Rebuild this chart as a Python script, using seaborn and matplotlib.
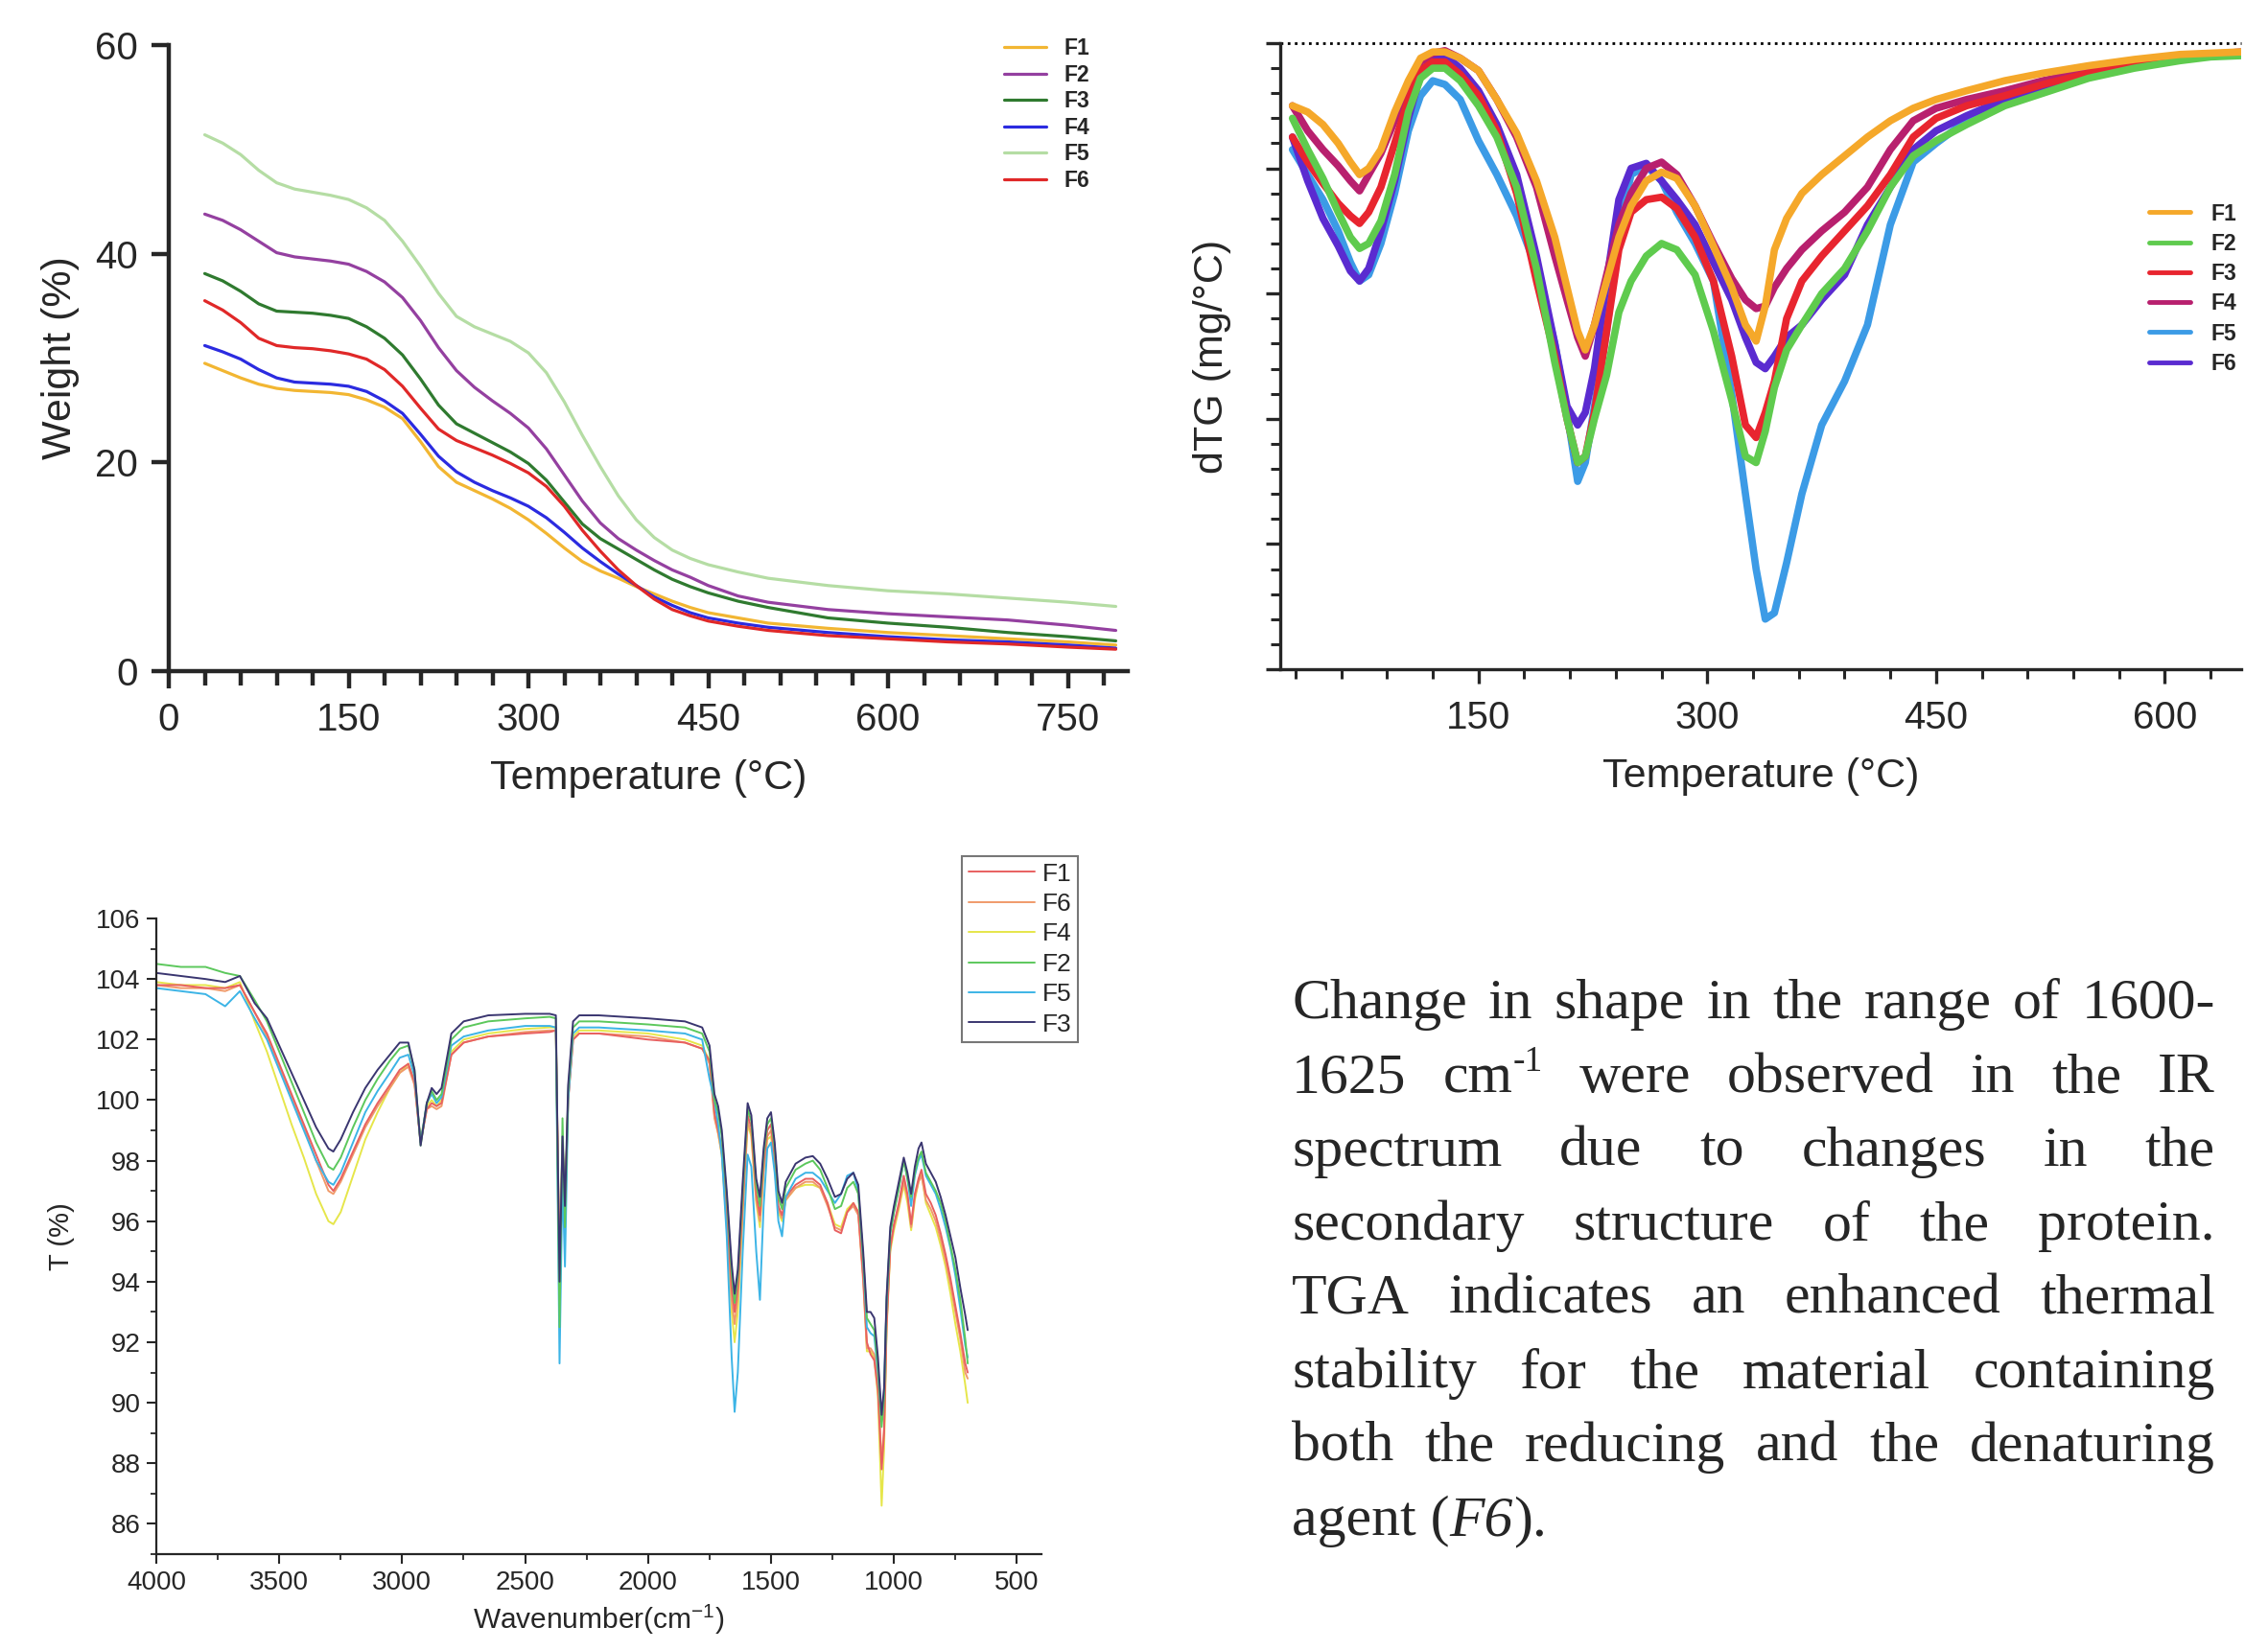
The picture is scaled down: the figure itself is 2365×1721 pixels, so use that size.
import numpy as np
import seaborn as sns
import matplotlib.pyplot as plt
from matplotlib.ticker import MultipleLocator, FixedLocator, NullFormatter

sns.set_style('ticks')
plt.rcParams['font.family'] = ['Liberation Sans', 'DejaVu Sans']
plt.rcParams['mathtext.default'] = 'regular'

# === TGA (weight %) ===
tga_temp = [30, 45, 60, 75, 90, 105, 120, 135, 150, 165, 180, 195, 210, 225, 240, 255, 270, 285,
            300, 315, 330, 345, 360, 375, 390, 405, 420, 435, 450, 475, 500, 550, 600, 650, 700, 750, 790]
tga_f1 = [29.5, 28.8, 28.1, 27.5, 27.1, 26.9, 26.8, 26.7, 26.5, 26.0, 25.3, 24.2, 22.0, 19.6, 18.1, 17.3, 16.5, 15.6,
          14.5, 13.2, 11.8, 10.5, 9.6, 8.9, 8.1, 7.4, 6.7, 6.1, 5.6, 5.1, 4.6, 4.1, 3.7, 3.4, 3.1, 2.8, 2.5]
tga_f2 = [43.8, 43.2, 42.3, 41.2, 40.1, 39.7, 39.5, 39.3, 39.0, 38.3, 37.3, 35.8, 33.6, 31.0, 28.8, 27.2, 25.9, 24.7,
          23.3, 21.3, 18.8, 16.3, 14.2, 12.7, 11.6, 10.6, 9.7, 9.0, 8.2, 7.2, 6.6, 5.9, 5.5, 5.2, 4.9, 4.4, 3.9]
tga_f3 = [38.1, 37.4, 36.4, 35.2, 34.5, 34.4, 34.3, 34.1, 33.8, 33.0, 31.9, 30.3, 28.0, 25.5, 23.7, 22.8, 21.9, 21.0,
          19.9, 18.3, 16.2, 14.1, 12.7, 11.7, 10.7, 9.7, 8.8, 8.1, 7.5, 6.7, 6.1, 5.1, 4.6, 4.2, 3.7, 3.3, 2.9]
tga_f4 = [31.2, 30.6, 29.9, 28.9, 28.1, 27.7, 27.6, 27.5, 27.3, 26.8, 25.9, 24.7, 22.7, 20.6, 19.1, 18.1, 17.3, 16.6,
          15.8, 14.7, 13.3, 11.8, 10.5, 9.3, 8.2, 7.1, 6.3, 5.6, 5.1, 4.6, 4.2, 3.7, 3.3, 3.0, 2.8, 2.5, 2.2]
tga_f5 = [51.4, 50.6, 49.5, 48.0, 46.8, 46.2, 45.9, 45.6, 45.2, 44.4, 43.2, 41.2, 38.8, 36.2, 34.0, 33.0, 32.3, 31.6,
          30.5, 28.6, 25.8, 22.6, 19.6, 16.8, 14.5, 12.8, 11.6, 10.8, 10.2, 9.5, 8.9, 8.2, 7.7, 7.4, 7.0, 6.6, 6.2]
tga_f6 = [35.5, 34.6, 33.4, 31.9, 31.2, 31.0, 30.9, 30.7, 30.4, 29.9, 28.9, 27.3, 25.2, 23.2, 22.1, 21.4, 20.7, 19.9,
          19.0, 17.7, 15.8, 13.5, 11.5, 9.7, 8.2, 6.9, 5.9, 5.3, 4.8, 4.3, 3.9, 3.4, 3.1, 2.8, 2.6, 2.3, 2.1]
tga_labels = ['F1', 'F2', 'F3', 'F4', 'F5', 'F6']
tga_colors = ['#F2B632', '#9440A0', '#2F7A2F', '#2B2BE0', '#B5DDA4', '#E02828']

# === dTG ===
dtg_temp = [28, 38, 48, 58, 66, 72, 78, 86, 95, 104, 112, 120, 128, 138, 150, 162, 175, 188, 200, 208, 215, 220,
            226, 234, 242, 250, 260, 270, 280, 292, 304, 316, 325, 332, 338, 344, 352, 362, 375, 390, 405, 420,
            435, 450, 470, 495, 520, 550, 580, 610, 630, 650]
dtg_f1 = [-0.50, -0.55, -0.65, -0.80, -0.95, -1.05, -1.00, -0.85, -0.55, -0.30, -0.12, -0.07, -0.07, -0.12, -0.22,
          -0.45, -0.72, -1.10, -1.55, -1.95, -2.30, -2.45, -2.25, -1.90, -1.55, -1.30, -1.10, -1.03, -1.08, -1.30,
          -1.62, -1.95, -2.25, -2.38, -2.10, -1.65, -1.40, -1.20, -1.05, -0.90, -0.75, -0.62, -0.52, -0.45, -0.38,
          -0.30, -0.24, -0.18, -0.13, -0.09, -0.08, -0.07]
dtg_f2 = [-0.60, -0.85, -1.08, -1.35, -1.55, -1.64, -1.60, -1.42, -1.05, -0.55, -0.28, -0.20, -0.20, -0.30, -0.50,
          -0.75, -1.15, -1.80, -2.55, -3.00, -3.35, -3.30, -3.00, -2.65, -2.15, -1.90, -1.70, -1.60, -1.65, -1.85,
          -2.30, -2.85, -3.30, -3.35, -3.10, -2.75, -2.45, -2.25, -2.00, -1.80, -1.50, -1.15, -0.90, -0.78, -0.65,
          -0.50, -0.40, -0.28, -0.20, -0.14, -0.11, -0.10]
dtg_f3 = [-0.75, -0.95, -1.12, -1.28, -1.38, -1.44, -1.35, -1.15, -0.80, -0.45, -0.22, -0.15, -0.15, -0.25, -0.42,
          -0.70, -1.20, -1.90, -2.50, -3.00, -3.35, -3.30, -2.95, -2.30, -1.65, -1.35, -1.25, -1.23, -1.32, -1.55,
          -1.90, -2.50, -3.05, -3.15, -2.95, -2.70, -2.20, -1.90, -1.70, -1.50, -1.30, -1.05, -0.75, -0.60, -0.50,
          -0.42, -0.33, -0.24, -0.17, -0.12, -0.10, -0.08]
dtg_f4 = [-0.50, -0.70, -0.85, -0.98, -1.10, -1.18, -1.05, -0.88, -0.62, -0.35, -0.15, -0.08, -0.06, -0.12, -0.22,
          -0.45, -0.75, -1.15, -1.70, -2.05, -2.35, -2.50, -2.25, -1.85, -1.45, -1.20, -1.00, -0.95, -1.05, -1.30,
          -1.60, -1.88, -2.05, -2.12, -2.10, -1.95, -1.80, -1.65, -1.50, -1.35, -1.15, -0.85, -0.62, -0.52, -0.45,
          -0.38, -0.30, -0.22, -0.16, -0.11, -0.09, -0.07]
dtg_f5 = [-0.85, -1.05, -1.25, -1.50, -1.75, -1.90, -1.85, -1.60, -1.20, -0.70, -0.42, -0.30, -0.33, -0.45, -0.78,
          -1.05, -1.38, -1.80, -2.40, -2.95, -3.50, -3.35, -2.90, -2.30, -1.50, -1.05, -0.98, -1.10, -1.35, -1.60,
          -1.90, -2.80, -3.60, -4.20, -4.60, -4.55, -4.15, -3.60, -3.05, -2.70, -2.25, -1.45, -0.95, -0.80, -0.62,
          -0.48, -0.38, -0.26, -0.18, -0.12, -0.10, -0.08]
dtg_f6 = [-0.75, -1.10, -1.40, -1.62, -1.82, -1.90, -1.80, -1.50, -1.10, -0.60, -0.25, -0.12, -0.10, -0.20, -0.38,
          -0.65, -1.05, -1.70, -2.40, -2.90, -3.05, -2.95, -2.60, -1.90, -1.25, -1.00, -0.96, -1.10, -1.25, -1.45,
          -1.75, -2.05, -2.35, -2.55, -2.60, -2.50, -2.35, -2.25, -2.05, -1.85, -1.45, -1.15, -0.85, -0.70, -0.58,
          -0.45, -0.35, -0.25, -0.17, -0.12, -0.10, -0.08]
dtg_labels = ['F1', 'F2', 'F3', 'F4', 'F5', 'F6']
dtg_colors = ['#F5A82A', '#5FCB4E', '#E8252F', '#B8206E', '#3C9BE6', '#5A2BD0']

# === FTIR ===
wn = [4000, 3900, 3800, 3720, 3660, 3600, 3550, 3500, 3450, 3400,
      3350, 3300, 3280, 3250, 3200, 3150, 3100, 3050, 3010, 2975,
      2950, 2925, 2900, 2880, 2860, 2840, 2800, 2750, 2650, 2500,
      2400, 2375, 2360, 2348, 2338, 2325, 2305, 2280, 2200, 2000,
      1850, 1780, 1750, 1730, 1715, 1700, 1680, 1660, 1648, 1635,
      1615, 1595, 1580, 1560, 1545, 1530, 1515, 1500, 1485, 1470,
      1455, 1440, 1400, 1360, 1330, 1300, 1270, 1240, 1215, 1190,
      1165, 1145, 1125, 1110, 1095, 1080, 1065, 1050, 1040, 1030,
      1015, 1000, 980, 960, 945, 930, 915, 900, 888, 870,
      850, 830, 810, 790, 770, 750, 730, 710, 700]
ir_f3 = [104.2, 104.1, 104.0, 103.9, 104.1, 103.2, 102.7, 101.8, 100.9, 100.0,
         99.1, 98.4, 98.3, 98.7, 99.6, 100.4, 101.0, 101.5, 101.9, 101.9,
         101.0, 98.5, 99.9, 100.4, 100.2, 100.4, 102.2, 102.6, 102.8, 102.85,
         102.85, 102.8, 94.0, 98.8, 96.5, 100.5, 102.6, 102.8, 102.8, 102.7,
         102.6, 102.4, 101.8, 100.2, 99.8, 99.0, 97.0, 94.6, 93.6, 94.4,
         97.3, 99.9, 99.5, 97.4, 96.8, 98.4, 99.4, 99.6, 98.6, 97.0,
         96.6, 97.3, 97.9, 98.1, 98.15, 97.9, 97.4, 96.8, 96.9, 97.4,
         97.6, 97.2, 95.0, 93.0, 93.0, 92.8, 91.5, 89.6, 90.5, 93.5,
         95.8, 96.5, 97.3, 98.1, 97.6, 96.9, 97.8, 98.4, 98.6, 97.9,
         97.6, 97.3, 96.8, 96.2, 95.5, 94.8, 93.8, 92.9, 92.4]
ir_f2 = [104.5, 104.4, 104.4, 104.2, 104.1, 103.3, 102.6, 101.6, 100.6, 99.6,
         98.6, 97.8, 97.7, 98.1, 99.1, 100.0, 100.7, 101.3, 101.7, 101.8,
         101.0, 98.5, 99.9, 100.3, 100.0, 100.2, 102.0, 102.4, 102.6, 102.7,
         102.75, 102.7, 92.5, 99.4, 95.8, 100.3, 102.4, 102.6, 102.6, 102.5,
         102.4, 102.2, 101.6, 100.0, 99.6, 98.8, 96.8, 94.3, 93.3, 94.2,
         97.0, 99.7, 99.3, 97.2, 96.5, 98.2, 99.2, 99.4, 98.4, 96.8,
         96.4, 97.1, 97.7, 97.9, 98.0, 97.7, 97.1, 96.4, 96.5, 97.1,
         97.3, 96.9, 94.8, 92.8, 92.6, 92.4, 91.2, 89.2, 90.2, 93.3,
         95.6, 96.3, 97.1, 98.0, 97.4, 96.8, 97.6, 98.1, 98.3, 97.6,
         97.3, 97.0, 96.6, 96.0, 95.2, 94.4, 93.4, 92.1, 91.3]
ir_f5 = [103.7, 103.6, 103.5, 103.1, 103.6, 102.7, 102.0, 101.0, 100.0, 99.0,
         98.0, 97.3, 97.2, 97.6, 98.6, 99.6, 100.3, 100.9, 101.4, 101.5,
         100.8, 98.6, 99.9, 100.2, 99.9, 100.1, 101.8, 102.1, 102.3, 102.45,
         102.45, 102.4, 91.3, 97.5, 94.5, 100.0, 102.2, 102.4, 102.4, 102.3,
         102.2, 102.0, 100.7, 100.0, 99.2, 98.2, 95.5, 91.5, 89.7, 91.0,
         95.0, 98.2, 97.8, 95.0, 93.4, 96.5, 98.4, 98.6, 97.6, 96.0,
         95.5, 96.8, 97.4, 97.6, 97.6, 97.4, 97.0, 96.6, 96.9, 97.5,
         97.6, 97.0, 94.7, 92.5, 92.3, 92.2, 91.0, 89.4, 90.4, 93.3,
         95.6, 96.3, 97.1, 98.0, 97.4, 96.5, 97.5, 98.0, 98.2, 97.5,
         97.2, 96.9, 96.4, 95.8, 95.1, 94.2, 93.1, 91.9, 91.5]
ir_f1 = [103.8, 103.8, 103.7, 103.7, 103.8, 102.9, 102.2, 101.2, 100.2, 99.2,
         98.2, 97.2, 97.0, 97.4, 98.3, 99.2, 99.9, 100.5, 101.0, 101.2,
         100.6, 98.6, 99.7, 99.9, 99.8, 99.9, 101.5, 101.9, 102.1, 102.2,
         102.25, 102.3, 94.5, 98.5, 96.5, 100.0, 102.0, 102.2, 102.2, 102.0,
         101.9, 101.7, 101.3, 99.6, 99.0, 98.4, 96.3, 93.8, 93.0, 93.8,
         96.6, 99.5, 99.1, 96.9, 96.2, 97.9, 99.0, 99.2, 98.1, 96.5,
         96.2, 96.8, 97.2, 97.4, 97.4, 97.2, 96.6, 95.7, 95.6, 96.3,
         96.6, 96.3, 94.2, 92.0, 91.6, 91.4, 90.4, 87.8, 89.0, 92.5,
         95.1, 95.9, 96.6, 97.5, 96.9, 95.9, 96.9, 97.4, 97.7, 96.9,
         96.6, 96.2, 95.6, 94.9, 94.1, 93.2, 92.3, 91.3, 91.0]
ir_f6 = [103.8, 103.7, 103.7, 103.6, 103.8, 102.9, 102.1, 101.1, 100.1, 99.1,
         98.0, 97.0, 96.9, 97.3, 98.2, 99.1, 99.8, 100.4, 100.9, 101.1,
         100.5, 98.6, 99.7, 99.8, 99.7, 99.8, 101.5, 101.9, 102.1, 102.25,
         102.3, 102.3, 94.0, 98.3, 96.2, 100.0, 102.0, 102.2, 102.2, 102.1,
         101.9, 101.7, 101.2, 99.4, 98.9, 98.2, 96.0, 93.4, 92.6, 93.5,
         96.4, 99.3, 98.9, 96.7, 96.0, 97.7, 98.8, 99.0, 97.9, 96.4,
         96.1, 96.7, 97.1, 97.3, 97.3, 97.1, 96.5, 95.8, 95.7, 96.3,
         96.5, 96.2, 94.0, 91.8, 91.8, 91.6, 90.6, 88.0, 89.2, 92.6,
         95.2, 95.8, 96.5, 97.3, 96.8, 95.8, 96.8, 97.3, 97.5, 96.7,
         96.4, 96.0, 95.4, 94.7, 93.9, 93.0, 92.1, 91.0, 90.8]
ir_f4 = [103.9, 103.8, 103.8, 103.7, 103.9, 102.6, 101.6, 100.4, 99.2, 98.1,
         96.9, 96.0, 95.9, 96.3, 97.5, 98.7, 99.6, 100.4, 100.9, 101.2,
         100.6, 98.7, 99.8, 100.0, 99.8, 100.0, 101.6, 102.0, 102.2, 102.35,
         102.4, 102.4, 94.5, 98.6, 96.4, 100.1, 102.1, 102.3, 102.3, 102.2,
         102.0, 101.8, 101.3, 99.5, 98.9, 98.2, 95.8, 93.0, 92.0, 93.0,
         96.2, 99.2, 98.8, 96.6, 95.8, 97.6, 98.7, 98.8, 97.8, 96.3,
         96.0, 96.7, 97.1, 97.2, 97.2, 97.1, 96.6, 95.9, 95.8, 96.4,
         96.6, 96.3, 94.2, 91.7, 91.7, 91.5, 90.2, 86.6, 88.5, 92.4,
         95.0, 95.7, 96.4, 97.2, 96.6, 95.7, 96.7, 97.3, 97.6, 96.6,
         96.2, 95.8, 95.2, 94.5, 93.6, 92.6, 91.7, 90.6, 90.0]
ir_labels = ['F1', 'F6', 'F4', 'F2', 'F5', 'F3']
ir_colors = ['#E86060', '#F09A6A', '#E6E64A', '#5CC85C', '#3CB4E6', '#3A3670']

# === TEXT === ("cm^-1" is split so the superscript can be drawn as plain text)
text_lines = ["Change in shape in the range of 1600-",
              "1625 cm^-1 were observed in the IR",
              "spectrum due to changes in the",
              "secondary structure of the protein.",
              "TGA indicates an enhanced thermal",
              "stability for the material containing",
              "both the reducing and the denaturing"]

W, H = 2365, 1721
fig = plt.figure(figsize=(W / 100, H / 100), dpi=100)

# --- panel 1: TGA ---
ax1 = fig.add_axes([176 / W, 1 - 700 / H, 1000 / W, 653 / H])
tga_series = [tga_f1, tga_f2, tga_f3, tga_f4, tga_f5, tga_f6]
for ys, lab, col in zip(tga_series, tga_labels, tga_colors):
    sns.lineplot(x=tga_temp, y=ys, ax=ax1, color=col, linewidth=2.3, label=lab)
ax1.set_xlim(0, 800)
ax1.set_ylim(0, 60)
ax1.xaxis.set_major_locator(FixedLocator([0, 150, 300, 450, 600, 750]))
ax1.xaxis.set_minor_locator(MultipleLocator(30))
ax1.set_yticks([0, 20, 40, 60])
for s in ['top', 'right']:
    ax1.spines[s].set_visible(False)
for s in ['left', 'bottom']:
    ax1.spines[s].set_linewidth(3.2)
ax1.tick_params(axis='both', which='major', length=13, width=3.2, labelsize=29, pad=10)
ax1.tick_params(axis='x', which='minor', length=11, width=3.2)
ax1.set_xlabel('Temperature (°C)', fontsize=31, labelpad=16)
ax1.set_ylabel('Weight (%)', fontsize=31, labelpad=12)
ax1.legend(loc='upper right', bbox_to_anchor=(0.96, 1.012), frameon=False, borderpad=0, borderaxespad=0,
           prop={'weight': 'bold', 'size': 16.5}, handlelength=1.9, labelspacing=0.2, handletextpad=0.8)

# --- panel 2: dTG ---
ax2 = fig.add_axes([1335 / W, 1 - 698 / H, 1002 / W, 653 / H])
dtg_series = [dtg_f1, dtg_f2, dtg_f3, dtg_f4, dtg_f5, dtg_f6]
for i in [4, 5, 3, 2, 1, 0]:
    sns.lineplot(x=dtg_temp, y=dtg_series[i], ax=ax2, color=dtg_colors[i], linewidth=5.5,
                 label=dtg_labels[i])
ax2.set_xlim(20, 650)
ax2.set_ylim(-5, 0)
ax2.axhline(0, color='black', linestyle=':', linewidth=2, clip_on=False)
ax2.xaxis.set_major_locator(FixedLocator([150, 300, 450, 600]))
ax2.xaxis.set_minor_locator(MultipleLocator(30))
ax2.yaxis.set_major_locator(MultipleLocator(1))
ax2.yaxis.set_minor_locator(MultipleLocator(0.2))
ax2.yaxis.set_major_formatter(NullFormatter())
for s in ['top', 'right']:
    ax2.spines[s].set_visible(False)
for s in ['left', 'bottom']:
    ax2.spines[s].set_linewidth(2.4)
ax2.tick_params(axis='both', which='major', length=11, width=2.4, labelsize=29, pad=12)
ax2.tick_params(axis='both', which='minor', length=7, width=2.2)
ax2.set_xlabel('Temperature (°C)', fontsize=31, labelpad=16)
ax2.set_ylabel('dTG (mg/°C)', fontsize=31, labelpad=14)
h2, l2 = ax2.get_legend_handles_labels()
order = [l2.index(k) for k in dtg_labels]
leg2 = ax2.legend([h2[k] for k in order], [l2[k] for k in order], loc='upper right',
                  bbox_to_anchor=(0.995, 0.745), frameon=False, borderpad=0, borderaxespad=0,
                  prop={'weight': 'bold', 'size': 16.5}, handlelength=1.9, labelspacing=0.36,
                  handletextpad=0.9)
for ln in leg2.get_lines():
    ln.set_linewidth(3.5)

# --- panel 3: FTIR ---
ax3 = fig.add_axes([163 / W, 1 - 1621 / H, 923 / W, 663 / H])
ir_series = {'F1': ir_f1, 'F6': ir_f6, 'F4': ir_f4, 'F2': ir_f2, 'F5': ir_f5, 'F3': ir_f3}
for lab in ['F4', 'F6', 'F1', 'F5', 'F2', 'F3']:
    i = ir_labels.index(lab)
    sns.lineplot(x=wn, y=ir_series[lab], ax=ax3, color=ir_colors[i], linewidth=1.4, label=lab, sort=False)
ax3.set_xlim(4000, 400)
ax3.set_ylim(85, 106)
ax3.xaxis.set_major_locator(FixedLocator([4000, 3500, 3000, 2500, 2000, 1500, 1000, 500]))
ax3.xaxis.set_minor_locator(MultipleLocator(250))
ax3.yaxis.set_major_locator(FixedLocator([86, 88, 90, 92, 94, 96, 98, 100, 102, 104, 106]))
ax3.yaxis.set_minor_locator(MultipleLocator(1))
for s in ['top', 'right']:
    ax3.spines[s].set_visible(False)
for s in ['left', 'bottom']:
    ax3.spines[s].set_linewidth(1.6)
ax3.tick_params(axis='both', which='major', length=7, width=1.5, labelsize=20, pad=5)
ax3.tick_params(axis='both', which='minor', length=4, width=1.3)
ax3.set_xlabel('Wavenumber(cm$^{\\mathregular{-1}}$)', fontsize=21.5, labelpad=6)
ax3.set_ylabel('T (%)', fontsize=21, labelpad=16)
h3, l3 = ax3.get_legend_handles_labels()
order = [l3.index(k) for k in ir_labels]
leg3 = ax3.legend([h3[k] for k in order], [l3[k] for k in order], loc='upper right',
                  bbox_to_anchor=(1.041, 1.098), frameon=True, fancybox=False, fontsize=19,
                  handlelength=2.6, labelspacing=0.28, handletextpad=0.3, borderpad=0.25,
                  borderaxespad=0)
leg3.get_frame().set_edgecolor('#555555')
leg3.get_frame().set_linewidth(1.5)

# --- justified paragraph ---
fig.canvas.draw()
renderer = fig.canvas.get_renderer()
serif = ['Liberation Serif', 'DejaVu Serif']
fsize = 43
sup_size = 27


def text_width(s, size=fsize, style='normal'):
    t = fig.text(0, 0, s, fontsize=size, family=serif, style=style)
    w = t.get_window_extent(renderer=renderer).width
    t.remove()
    return w


def word_width(w):
    if '^' in w:
        base, sup = w.split('^')
        return text_width(base) + text_width(sup, sup_size)
    return text_width(w)


def draw_word(x, y, w):
    if '^' in w:
        base, sup = w.split('^')
        fig.text(x / W, 1 - y / H, base, fontsize=fsize, family=serif, va='baseline')
        x2 = x + text_width(base)
        fig.text(x2 / W, 1 - (y - 22) / H, sup, fontsize=sup_size, family=serif, va='baseline')
    else:
        fig.text(x / W, 1 - y / H, w, fontsize=fsize, family=serif, va='baseline')


x_left, x_right = 1347, 2310
base0, step = 1062, 77
for i, line in enumerate(text_lines):
    words = line.split(' ')
    widths = [word_width(w) for w in words]
    gap = (x_right - x_left - sum(widths)) / (len(words) - 1)
    x = x_left
    for w, wd in zip(words, widths):
        draw_word(x, base0 + i * step, w)
        x += wd + gap

# last line, left aligned with italic F6
y_last = 1 - (base0 + len(text_lines) * step) / H
x = x_left
for piece, style in [('agent (', 'normal'), ('F6', 'italic'), (').', 'normal')]:
    fig.text(x / W, y_last, piece, fontsize=fsize, family=serif, style=style, va='baseline')
    x += text_width(piece, style=style)

fig.savefig('out.png', dpi=100)
